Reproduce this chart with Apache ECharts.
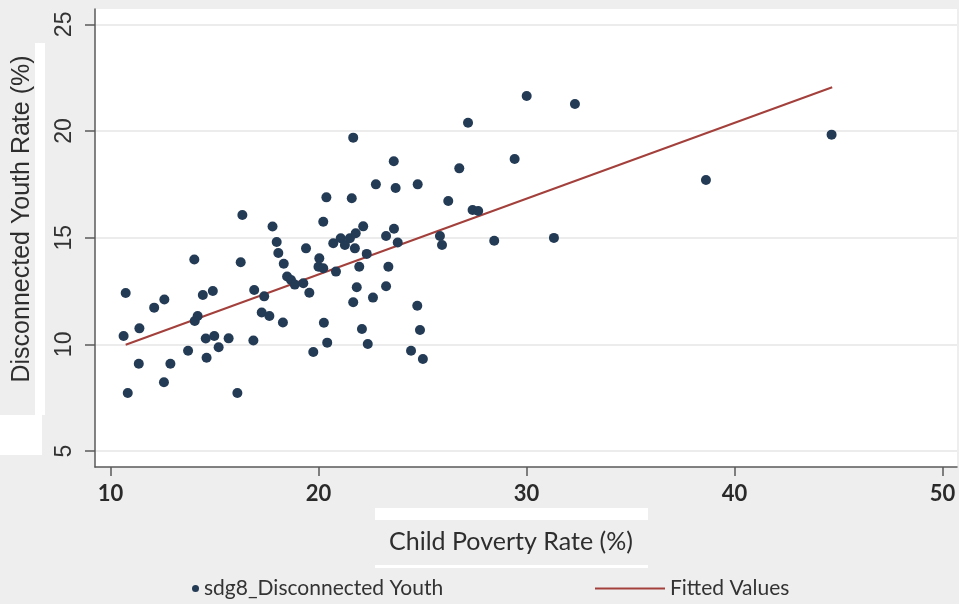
<!DOCTYPE html>
<html>
<head>
<meta charset="utf-8">
<script src="https://cdn.jsdelivr.net/npm/echarts@6/dist/echarts.min.js"></script>
<style>
  html, body { margin: 0; padding: 0; background: #eeeeee; }
  #chart { width: 959px; height: 604px; }
</style>
</head>
<body>
<div id="chart"></div>
<script>
// ---- data ----
const povertyRate = [
  10.73, 10.63, 10.83, 11.39, 11.36, 12.10, 12.59, 12.57, 12.88, 13.73,
  14.03, 14.19, 14.05, 14.44, 14.92, 14.58, 14.99, 14.62, 15.20, 15.68,
  16.10, 16.26, 16.34, 16.87, 16.91, 17.39, 17.27, 17.64, 18.29, 17.79,
  17.99, 18.07, 18.33, 18.49, 18.68, 18.86, 19.27, 19.56, 19.40, 19.75,
  20.04, 20.00, 20.23, 20.38, 20.23, 20.26, 20.42, 20.71, 20.84, 21.07,
  21.27, 21.51, 21.75, 21.79, 21.60, 21.67, 21.96, 21.84, 21.67, 22.15,
  22.32, 22.09, 22.37, 22.62, 22.76, 23.25, 23.36, 23.25, 23.63, 23.62,
  23.71, 23.81, 24.45, 24.75, 24.77, 24.88, 25.02, 25.84, 25.94, 26.24,
  26.77, 27.19, 27.41, 27.68, 28.45, 29.43, 30.01, 31.32, 32.33, 38.63,
  44.67
];
const disconnectedYouth = [
  12.41, 10.39, 7.72, 10.75, 9.09, 11.72, 12.10, 8.22, 9.09, 9.70,
  13.98, 11.33, 11.09, 12.31, 12.50, 10.27, 10.39, 9.37, 9.86, 10.28,
  7.72, 13.85, 16.06, 10.18, 12.55, 12.25, 11.49, 11.33, 11.02, 15.52,
  14.80, 14.28, 13.78, 13.18, 13.02, 12.80, 12.86, 12.42, 14.50, 9.64,
  14.03, 13.64, 13.57, 16.89, 15.75, 11.01, 10.08, 14.74, 13.41, 14.97,
  14.66, 14.97, 14.50, 15.21, 16.85, 19.69, 13.64, 12.68, 11.97, 15.53,
  14.24, 10.72, 10.02, 12.19, 17.50, 15.08, 13.64, 12.72, 15.42, 18.58,
  17.33, 14.77, 9.70, 11.81, 17.50, 10.67, 9.31, 15.08, 14.66, 16.72,
  18.25, 20.39, 16.30, 16.25, 14.86, 18.69, 21.64, 14.99, 21.27, 17.70,
  19.83
];
const fittedX = [10.73, 44.70];
const fittedY = [9.98, 22.05];
const xTickValues = [10, 20, 30, 40, 50];
const yTickValues = [5, 10, 15, 20, 25];
const scatterName = 'sdg8_Disconnected Youth';
const lineName = 'Fitted Values';
const xTitle = 'Child Poverty Rate (%)';
const yTitle = 'Disconnected Youth Rate (%)';

// ---- build ----
const scatterData = povertyRate.map((x, i) => [x, disconnectedYouth[i]]);
const lineData = fittedX.map((x, i) => [x, fittedY[i]]);

const chart = echarts.init(document.getElementById('chart'), null, { renderer: 'canvas' });

const option = {
  backgroundColor: '#eeeeee',
  animation: false,
  grid: {
    left: 95, top: 9, right: 2, bottom: 137,
    show: true, backgroundColor: '#ffffff', borderWidth: 0,
    containLabel: false, outerBoundsMode: 'none'
  },
  xAxis: {
    type: 'value',
    min: 9.255, max: 50.70,
    splitNumber: 4,
    axisLine: { show: true, onZero: false, lineStyle: { color: '#5a5a5a', width: 1.5 } },
    axisTick: { show: true, inside: false, length: 9, customValues: xTickValues,
      lineStyle: { color: '#5a5a5a', width: 1.5 } },
    axisLabel: { customValues: xTickValues, margin: 16, color: '#2a2a2a',
      fontFamily: 'Lato', fontWeight: 'bold', fontSize: 22 },
    splitLine: { show: false }
  },
  yAxis: {
    type: 'value',
    min: 4.25, max: 25.72,
    axisLine: { show: true, onZero: false, lineStyle: { color: '#5a5a5a', width: 1.5 } },
    axisTick: { show: true, inside: false, length: 10, customValues: yTickValues,
      lineStyle: { color: '#5a5a5a', width: 1.5 } },
    axisLabel: { customValues: yTickValues, rotate: 90, margin: 19, color: '#333333',
      fontFamily: 'Liberation Sans', fontSize: 23 },
    splitLine: { show: true, lineStyle: { color: '#e6e6e6', width: 1.5 } }
  },
  legend: [
    {
      data: [scatterName], left: 192, top: 578, padding: 0, icon: 'circle',
      itemWidth: 7, itemHeight: 7, itemGap: 10,
      textStyle: { fontFamily: 'Lato', fontSize: 21, color: '#333333' }
    },
    {
      data: [{ name: lineName, icon: 'rect' }], left: 595, top: 578, padding: 0,
      itemWidth: 70, itemHeight: 2,
      textStyle: { fontFamily: 'Lato', fontSize: 21, color: '#333333' }
    }
  ],
  graphic: [
    { type: 'rect', z: -10, shape: { x: 375, y: 508, width: 273, height: 12 }, style: { fill: '#ffffff' } },
    { type: 'rect', z: -10, shape: { x: 375, y: 565, width: 273, height: 3 }, style: { fill: '#ffffff' } },
    { type: 'rect', z: -10, shape: { x: 35, y: 43, width: 10, height: 372 }, style: { fill: '#ffffff' } },
    { type: 'rect', z: -10, shape: { x: 0, y: 415, width: 42, height: 40 }, style: { fill: '#ffffff' } },
    { type: 'text', x: 511, y: 542, style: { text: xTitle, align: 'center', verticalAlign: 'middle',
        fontFamily: 'Lato', fontSize: 25, fill: '#2e2e2e' } },
    { type: 'text', x: 22, y: 219, rotation: Math.PI / 2, style: { text: yTitle, align: 'center', verticalAlign: 'middle',
        fontFamily: 'Liberation Sans', fontSize: 25, fill: '#2e2e2e' } }
  ],
  series: [
    {
      name: scatterName, type: 'scatter', data: scatterData,
      symbol: 'circle', symbolSize: 10,
      itemStyle: { color: '#243b55', opacity: 1 }, z: 3
    },
    {
      name: lineName, type: 'line', data: lineData,
      symbol: 'none', showSymbol: false,
      lineStyle: { color: '#a3403c', width: 2 },
      itemStyle: { color: '#a3403c' }, z: 2
    }
  ]
};
chart.setOption(option);
</script>
</body>
</html>
